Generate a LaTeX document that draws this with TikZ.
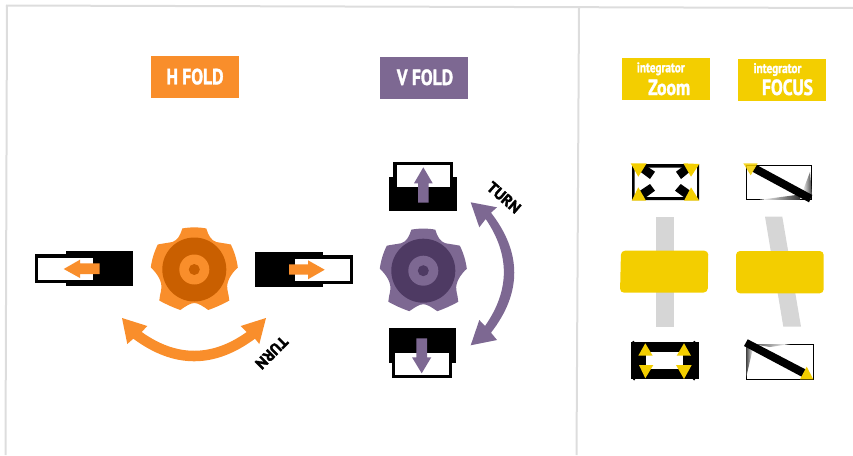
\documentclass[tikz,border=0pt]{standalone}
\usepackage{fontspec}
\setmainfont{PT Sans}
\newfontfamily\lblfont{PT Sans}[FakeStretch=0.8,BoldFeatures={FakeBold=1.5}]
\newfontfamily\turnfont{PT Sans}[FakeStretch=1.02,BoldFeatures={FakeBold=2.2}]
\usetikzlibrary{calc}
\definecolor{borange}{HTML}{F98E2B}
\definecolor{dorange}{HTML}{C95F00}
\definecolor{bpurple}{HTML}{7D6892}
\definecolor{dpurple}{HTML}{4E3A63}
\definecolor{byellow}{HTML}{F3CE00}
\definecolor{lgray}{HTML}{D6D6D6}
\definecolor{bordergray}{HTML}{DDDDDD}
\newcommand{\myknob}[4]{%
  \begin{scope}[shift={(#1,#2)}]
    \fill[#3] (-12,-41) .. controls (-5,-42.5) and (5,-42.5) .. (12,-41)
      .. controls (14,-34) and (17,-29) .. (22,-27.5) .. controls (27,-26.5) and (32,-26) .. (36.5,-25)
      .. controls (40,-18) and (42.5,-10) .. (43.5,-2)
      .. controls (37,4) and (32,12) .. (33,19) .. controls (33.5,24) and (35,27) .. (35,31)
      .. controls (28,35) and (21,38) .. (14,40.5)
      .. controls (9,37) and (4,33.5) .. (0,33.5) .. controls (-4,33.5) and (-9,37) .. (-14,40.5)
      .. controls (-21,38) and (-28,35) .. (-35,31)
      .. controls (-35,27) and (-33.5,24) .. (-33,19) .. controls (-32,12) and (-37,4) .. (-43.5,-2)
      .. controls (-42.5,-10) and (-40,-18) .. (-36.5,-25)
      .. controls (-32,-26) and (-27,-26.5) .. (-22,-27.5) .. controls (-17,-29) and (-14,-34) .. (-12,-41) -- cycle;
    \fill[#4] (0,0) circle[radius=32];
    \fill[#3] (0,0) circle[radius=15];
    \fill[#4] (0,0) circle[radius=5.5];
  \end{scope}}
\tikzset{
  every node/.style={inner sep=0pt,outer sep=0pt},
  lbl/.style={anchor=base,text=white,font=\lblfont\bfseries\fontsize{22}{22}\selectfont},
  small lbl/.style={anchor=base,text=white,font=\lblfont\bfseries\fontsize{14}{14}\selectfont},
  turnlbl/.style={text=black,font=\turnfont\bfseries\fontsize{15.5}{16}\selectfont},
  borderline/.style={draw=bordergray,line width=2pt},
  ytri/.style={fill=byellow}
}
\begin{document}
\begin{tikzpicture}[x=1pt,y=-1pt]
\useasboundingbox (0,0) rectangle (853,455);
% borders
\draw[borderline] (6,5.5) -- (853,8);
\draw[borderline] (7,5) -- (5.5,455);
\draw[borderline] (579,7) -- (576.5,455);
% header boxes
\fill[borange] (151,56.3) rectangle (239,98);
\node[lbl] (hfold) at (195,84.3) {H FOLD};
\fill[bpurple] (380.3,57.3) rectangle (468.3,99);
\node[lbl] (vfold) at (425,85) {V FOLD};
\fill[byellow] (621.7,58.3) rectangle (710,100);
\node[small lbl] (int1) at (660.8,72.3) {integrator};
\node[lbl] (zoom) at (669.2,95) {Zoom};
\fill[byellow] (738,58.7) rectangle (826,100.7);
\node[small lbl] (int2) at (777.5,73) {integrator};
\node[lbl] (focus) at (787.5,95) {FOCUS};
% knobs
\myknob{194.3}{269.5}{borange}{dorange}
\myknob{423.3}{270.7}{bpurple}{dpurple}
% left orange slider
\fill[black] (35.3,254.3) rectangle (70,282.7);
\fill[black] (65.7,251) rectangle (133,286.3);
\fill[white] (38.3,257.7) rectangle (93,279.7);
\fill[borange] (63.7,269) -- (80,259.7) -- (80,263.3) -- (99.7,263.3) -- (99.7,274) -- (80,274) -- (80,278) -- cycle;
% right orange slider
\fill[black] (320,255.3) rectangle (353.3,284);
\fill[black] (255,252) rectangle (322.7,287.3);
\fill[white] (295.3,258.7) rectangle (350,280.7);
\fill[borange] (324.7,269.7) -- (308,260.3) -- (308,264.3) -- (289,264.3) -- (289,274.7) -- (308,274.7) -- (308,279.3) -- cycle;
% top purple slider
\fill[black] (393.3,162) rectangle (453,180);
\fill[black] (389.3,176.7) rectangle (457,211.3);
\fill[white] (396.7,165.3) rectangle (450,187);
\fill[bpurple] (423.3,167.3) -- (432.7,183.3) -- (428.7,183.3) -- (428.7,202.7) -- (418,202.7) -- (418,183.3) -- (414,183.3) -- cycle;
% bottom purple slider
\fill[black] (388.7,328) rectangle (456.3,363.3);
\fill[black] (392.3,360) rectangle (452,378);
\fill[white] (395.3,353.3) rectangle (449,374.7);
\fill[bpurple] (421.7,373.3) -- (431.3,357.3) -- (427,357.3) -- (427,338.3) -- (416.3,338.3) -- (416.3,357.3) -- (412,357.3) -- cycle;
% orange double arrow
\fill[borange] (122,318) -- (147.3,326) -- (141.7,332)
  .. controls (176.7,357) and (211.7,357) .. (246.7,332)
  -- (240.7,326) -- (266,318) -- (259.3,344) -- (255,338.7)
  .. controls (214.3,368.8) and (174,368.8) .. (133.3,338.7)
  -- (127.3,344) -- cycle;
\node[turnlbl,rotate=225] (turn1) at (271.7,352.7) {TURN};
% purple double arrow
\fill[bpurple] (470.7,202.3) -- (497,207.3) -- (491,212.7)
  .. controls (522,252.7) and (522,292.7) .. (491,332.7)
  -- (497,340) -- (470.7,345.3) -- (479.3,320) -- (485,326)
  .. controls (510,290.3) and (510,254.7) .. (485.7,219)
  -- (479.3,227.3) -- cycle;
\node[turnlbl,rotate=-41] (turn2) at (504,197.5) {TURN};
% gray bars
\fill[lgray] (656,216.7) rectangle (673.7,326.7);
\fill[lgray] (765,216.7) -- (782.3,216.7) -- (801,326.7) -- (783.3,326.7) -- cycle;
% yellow sliders
\fill[byellow,rounded corners=4pt] (621,250.7) -- (708.3,250.7) -- (707.7,292.5) -- (620,292.7) -- cycle;
\fill[byellow,rounded corners=4pt] (736,251) rectangle (823.7,293.3);
% top-left icon (zoom)
\fill[black,even odd rule] (632,164) rectangle (699,200) (634.5,167.5) rectangle (697,197);
\fill[black] (645,165) -- (655,171.7) -- (650,179) -- (638,170) -- cycle;
\fill[black] (676,171.7) -- (685,165) -- (692,170) -- (681,179) -- cycle;
\fill[black] (638,192) -- (650,184) -- (655,190.7) -- (645,198) -- cycle;
\fill[black] (675,190.7) -- (680.7,184) -- (692,192) -- (685,198) -- cycle;
\fill[ytri] (630.7,163.3) -- (646.7,163.3) -- (638.3,176.7) -- cycle;
\fill[ytri] (683.3,163.3) -- (699.3,164) -- (691,176.7) -- cycle;
\fill[ytri] (638.3,187.3) -- (631.7,200.7) -- (646,200.7) -- cycle;
\fill[ytri] (691,187.3) -- (684,200.7) -- (699.3,200.7) -- cycle;
% top-right icon (focus)
\draw[black,line width=1.2pt,fill=white] (746.3,165.3) rectangle (811.7,199.5);
\shade[left color=white,right color=black!75] (810,172) -- (812,195) -- (802,193) -- cycle;
\shade[left color=white,right color=black!80] (760,199.8) -- (800,194.5) -- (800,199.8) -- cycle;
\fill[black] (756.7,165) -- (812.3,195) -- (809,202.3) -- (752.3,171.7) -- cycle;
\fill[ytri,opacity=.85] (743.3,163.3) -- (757.7,163.3) -- (750.7,175.3) -- cycle;
% bottom-left icon (zoom)
\fill[black] (630.7,342) rectangle (698.7,379.3);
\fill[black] (633.3,342) circle[radius=1.2] (694.3,342) circle[radius=1.2] (634,379.3) circle[radius=1.2] (694,379.3) circle[radius=1.2];
\fill[white] (646,351.7) rectangle (682.7,369.3);
\fill[ytri] (645.3,343.3) -- (638.3,355.7) -- (652.7,355.7) -- cycle;
\fill[ytri] (684,343.3) -- (676.7,355.7) -- (691,355.7) -- cycle;
\fill[ytri] (645.3,378.3) -- (639,365) -- (653.3,365) -- cycle;
\fill[ytri] (684,379) -- (676,365) -- (691.7,365) -- cycle;
% bottom-right icon (focus)
\draw[black,line width=.9pt,fill=white] (746,344) rectangle (813,379);
\shade[left color=black!75,right color=white] (746,378) -- (746,345) -- (753,348) -- cycle;
\shade[left color=black!70,right color=white] (752,344) -- (790,344) -- (770,347) -- cycle;
\fill[black] (747.7,339.3) -- (806.7,370) -- (801.7,376.7) -- (744,346) -- cycle;
\fill[ytri] (806.7,366.7) -- (800,379.3) -- (813.3,379.3) -- cycle;
\end{tikzpicture}
\end{document}
